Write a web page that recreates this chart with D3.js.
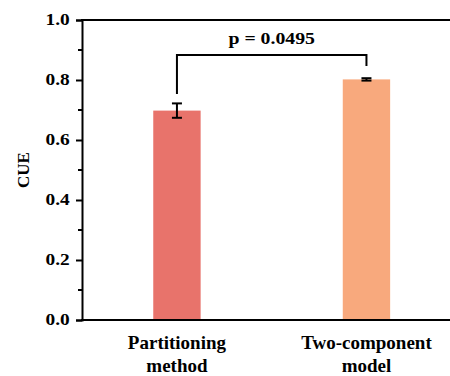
<!DOCTYPE html>
<html>
<head>
<meta charset="utf-8">
<script src="https://cdn.jsdelivr.net/npm/d3@7"></script>
</head>
<body style="margin:0;background:#fff">
<div id="canvas"></div>
<script>
// data
const categories = ['Partitioning method', 'Two-component model']
const means = [0.698, 0.802]
const errors = [0.024, 0.004]
const barColors = ['#e8736b', '#f8a97d']
const yTicks = [0, 0.2, 0.4, 0.6, 0.8, 1.0]
const bracketTop = 0.883
const bracketEnds = [0.753, 0.847]
const pLabel = 'p = 0.0495'

const W = 450, H = 376
const mLeft = 82, mTop = 20, mBottom = 320
const FONT = 'Liberation Serif'

let svg = d3.select('#canvas').append('svg')
    .attr('width', W)
    .attr('height', H)

let y = d3.scaleLinear().domain([0, 1]).range([mBottom, mTop])
let x = d3.scaleBand().domain(categories)
    .range([mLeft, 461.4])
    .paddingInner(0.75)
    .paddingOuter(0.376)

// bars
svg.selectAll('.bar')
    .data(categories)
    .enter().append('rect')
    .attr('x', d => x(d))
    .attr('width', x.bandwidth())
    .attr('y', (d, i) => y(means[i]))
    .attr('height', (d, i) => y(0) - y(means[i]))
    .attr('fill', (d, i) => barColors[i])

// error bars
let cx = d => x(d) + x.bandwidth() / 2
let eb = svg.selectAll('.err')
    .data(categories)
    .enter().append('g')
    .attr('stroke', '#000')
    .attr('stroke-width', 2)
eb.append('line')
    .attr('x1', cx).attr('x2', cx)
    .attr('y1', (d, i) => y(means[i] + errors[i]))
    .attr('y2', (d, i) => y(means[i] - errors[i]))
eb.append('line')
    .attr('x1', d => cx(d) - 5).attr('x2', d => cx(d) + 5)
    .attr('y1', (d, i) => y(means[i] + errors[i]))
    .attr('y2', (d, i) => y(means[i] + errors[i]))
eb.append('line')
    .attr('x1', d => cx(d) - 5).attr('x2', d => cx(d) + 5)
    .attr('y1', (d, i) => y(means[i] - errors[i]))
    .attr('y2', (d, i) => y(means[i] - errors[i]))

// significance bracket
let bx0 = cx(categories[0]), bx1 = cx(categories[1])
svg.append('path')
    .attr('d', `M${bx0},${y(bracketEnds[0])}V${y(bracketTop)}H${bx1}V${y(bracketEnds[1])}`)
    .attr('fill', 'none')
    .attr('stroke', '#000')
    .attr('stroke-width', 2)
// the source font is a bit wide, so stretch horizontally
svg.append('g')
    .attr('transform', `translate(${(bx0 + bx1) / 2},44) scale(1.13,1)`)
  .append('text')
    .attr('text-anchor', 'middle')
    .attr('font-size', 17.5)
    .text(pLabel)

// y axis
let yAxis = svg.append('g')
    .attr('transform', `translate(${mLeft},0)`)
    .call(d3.axisLeft(y).tickValues(yTicks).tickFormat(d3.format('.1f')).tickSize(6).tickPadding(5))
yAxis.select('.domain').attr('stroke-width', 2)
yAxis.selectAll('.tick line').attr('stroke-width', 2)
yAxis.selectAll('.tick text')
    .attr('fill', '#000')
    .attr('font-size', 17.3)
    .attr('dy', '0.28em')
    .attr('transform', 'scale(1.12,1)')
// minor ticks
svg.selectAll('.minor')
    .data([0.1, 0.3, 0.5, 0.7, 0.9])
    .enter().append('line')
    .attr('x1', mLeft - 4).attr('x2', mLeft)
    .attr('y1', d => y(d)).attr('y2', d => y(d))
    .attr('stroke', '#000').attr('stroke-width', 2)

// frame top and bottom
svg.append('line')
    .attr('x1', mLeft - 1).attr('x2', W)
    .attr('y1', y(1)).attr('y2', y(1))
    .attr('stroke', '#000').attr('stroke-width', 2)
svg.append('line')
    .attr('x1', mLeft - 1).attr('x2', W)
    .attr('y1', y(0)).attr('y2', y(0))
    .attr('stroke', '#000').attr('stroke-width', 2)

// y title
svg.append('text')
    .attr('transform', `translate(29,${(mTop + mBottom) / 2}) rotate(-90)`)
    .attr('text-anchor', 'middle')
    .attr('font-size', 17)
    .text('CUE')

// x labels, two lines each
let xl = svg.selectAll('.xl')
    .data(categories)
    .enter().append('text')
    .attr('text-anchor', 'middle')
    .attr('font-size', 19)
xl.append('tspan')
    .attr('x', cx).attr('y', 349)
    .text(d => d.split(' ')[0])
xl.append('tspan')
    .attr('x', cx).attr('y', 372)
    .text(d => d.split(' ')[1])

// serif bold on every text element
svg.selectAll('text')
    .attr('font-family', FONT)
    .attr('font-weight', 'bold')
</script>
</body>
</html>
